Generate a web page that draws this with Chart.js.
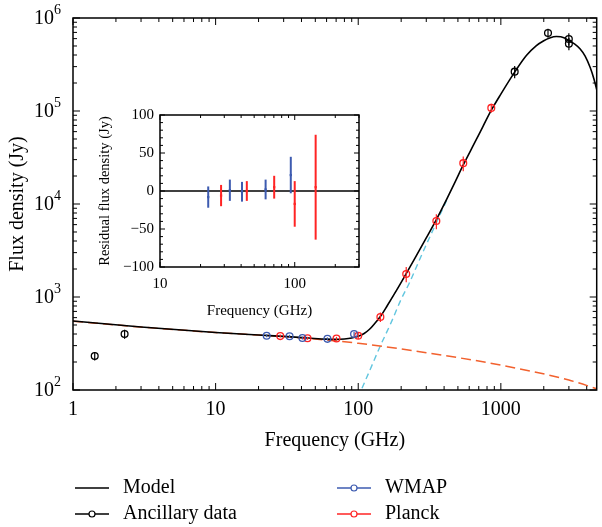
<!DOCTYPE html>
<html>
<head>
<meta charset="utf-8">
<script src="https://cdn.jsdelivr.net/npm/chart.js@4.4.1/dist/chart.umd.min.js"></script>
<style>
  body { margin: 0; background: #fff; }
  #wrap { position: relative; width: 602px; height: 527px; }
  #main { position: absolute; left: 0; top: 0; }
  #inset { position: absolute; left: 90px; top: 100px; }
</style>
</head>
<body>
<div id="wrap">
  <canvas id="main" width="602" height="527"></canvas>
  <canvas id="inset" width="275" height="225"></canvas>
</div>
<script>
// --- data ---
const ancFreq = [1.42, 2.3, 1250, 2141, 2997, 3000];
const ancFlux = [232, 400, 265000, 690000, 595000, 530000];
const ancErr  = [25, 45, 40000, 75000, 90000, 80000];

const wmapFreq = [22.8, 33, 40.6, 60.8, 93.5];
const wmapFlux = [383, 378, 362, 355, 400];
const wmapErr  = [14, 14, 13, 13, 24];

const planckFreq = [28.4, 44.1, 70.4, 100, 143, 217, 353, 545, 857];
const planckFlux = [380, 360, 358, 383, 610, 1770, 6560, 27500, 108000];
const planckErr  = [14, 13, 15, 30, 70, 330, 1200, 5000, 12000];

const modelFreq = [1, 3, 10, 20, 30, 45, 60, 70, 80, 90, 100, 110, 120, 130, 143, 160, 185, 217, 250, 300,
  353, 420, 480, 545, 650, 750, 857, 1000, 1250, 1510, 1775, 2000, 2200, 2450, 2800, 3000, 3300, 3600,
  3900, 4225, 4500, 4700, 5000];
const modelFlux = [552, 475, 415, 390, 377, 362, 352, 350, 354, 363, 378, 405, 450, 515, 617, 810, 1170, 1785,
  2620, 4320, 6800, 11500, 17500, 26300, 44500, 68400, 102000, 152000, 262000, 395000, 505000, 570000,
  610000, 632000, 610000, 570000, 525000, 465000, 390000, 295000, 220000, 170000, 115000];

const synFreq = [1, 3, 10, 30, 100, 300, 1000, 3000, 5000];
const synFlux = [550, 475, 415, 375, 318, 252, 185, 128, 100];

const dustFreq = [100, 105, 120, 142, 170, 199, 230, 270, 353, 420];
const dustFlux = [83, 100, 160, 292, 530, 930, 1450, 2550, 6300, 11200];

// inset residuals
const wmapRes    = [-8, 1, -1, 2, 21];
const wmapResErr = [14, 14, 13, 13, 24];
const planckResFreq = [28.4, 44.1, 70.4, 100, 143];
const planckRes     = [-6, 0, 5, -17, 5];
const planckResErr  = [14, 13, 15, 30, 69];

const xTicksMain = [1, 10, 100, 1000];
const yExpMain = [2, 3, 4, 5, 6];
const yTicksInset = [100, 50, 0, -50, -100];
const xTicksInset = [10, 100];

const BLUE = '#3d5bb0';
const RED = '#ff2424';
const ORANGE = '#f2612e';
const CYAN = '#62c6df';
const FONT = '"Liberation Serif", "DejaVu Serif", serif';

const pts = (xs, ys) => xs.map((v, i) => ({ x: v, y: ys[i] }));

// vertical error bars for datasets that carry an errs array
const errorBars = {
  id: 'errorBars',
  afterDatasetsDraw(chart) {
    const { ctx, scales: { y } } = chart;
    ctx.save();
    chart.data.datasets.forEach((ds, i) => {
      if (!ds.errs) return;
      const meta = chart.getDatasetMeta(i);
      ctx.strokeStyle = ds.borderColor;
      ctx.lineWidth = ds.errWidth || 1.2;
      meta.data.forEach((el, j) => {
        const v = ds.data[j].y, e = ds.errs[j];
        const lo = y.type === 'logarithmic' ? Math.max(v - e, 1) : v - e;
        ctx.beginPath();
        ctx.moveTo(el.x, y.getPixelForValue(v + e));
        ctx.lineTo(el.x, y.getPixelForValue(lo));
        ctx.stroke();
      });
    });
    ctx.restore();
  }
};

function seg(ctx, x1, y1, x2, y2) {
  ctx.beginPath(); ctx.moveTo(x1, y1); ctx.lineTo(x2, y2); ctx.stroke();
}

function logTicks(min, max) {
  const out = [];
  for (let d = Math.pow(10, Math.floor(Math.log10(min))); d <= max; d *= 10) {
    for (let m = 1; m < 10; m++) {
      const v = d * m;
      if (v >= min && v <= max) out.push({ v, major: m === 1 });
    }
  }
  return out;
}

const mainFrame = {
  id: 'mainFrame',
  afterDraw(chart) {
    const { ctx, chartArea: a, scales: { x, y } } = chart;
    ctx.save();
    ctx.strokeStyle = '#000';
    ctx.lineWidth = 1.5;
    ctx.strokeRect(a.left, a.top, a.right - a.left, a.bottom - a.top);
    ctx.lineWidth = 1;
    logTicks(1, 4700).forEach(t => {
      const px = x.getPixelForValue(t.v), len = t.major ? 7 : 4;
      seg(ctx, px, a.bottom, px, a.bottom - len);
      seg(ctx, px, a.top, px, a.top + len);
    });
    logTicks(100, 1e6).forEach(t => {
      const py = y.getPixelForValue(t.v), len = t.major ? 7 : 4;
      seg(ctx, a.left, py, a.left + len, py);
      seg(ctx, a.right, py, a.right - len, py);
    });

    ctx.fillStyle = '#000';
    ctx.textBaseline = 'middle';
    ctx.textAlign = 'center';
    ctx.font = '20px ' + FONT;
    xTicksMain.forEach(v => ctx.fillText(String(v), x.getPixelForValue(v), 410));
    yExpMain.forEach(e => {
      const py = y.getPixelForValue(Math.pow(10, e));
      ctx.font = '20px ' + FONT;
      ctx.textAlign = 'right';
      ctx.fillText('10', 54, py + 1);
      ctx.font = '14px ' + FONT;
      ctx.textAlign = 'left';
      ctx.fillText(String(e), 54, py - 8);
    });

    ctx.font = '20px ' + FONT;
    ctx.textAlign = 'center';
    ctx.fillText('Frequency (GHz)', (a.left + a.right) / 2, 441);
    ctx.save();
    ctx.translate(18, (a.top + a.bottom) / 2);
    ctx.rotate(-Math.PI / 2);
    ctx.fillText('Flux density (Jy)', 0, 0);
    ctx.restore();

    // legend
    const items = [
      { label: 'Model', color: '#000', marker: false, x: 75, y: 488 },
      { label: 'Ancillary data', color: '#000', marker: true, x: 75, y: 514 },
      { label: 'WMAP', color: BLUE, marker: true, x: 337, y: 488 },
      { label: 'Planck', color: RED, marker: true, x: 337, y: 514 }
    ];
    items.forEach(it => {
      ctx.strokeStyle = it.color;
      ctx.lineWidth = 1.5;
      seg(ctx, it.x, it.y, it.x + 34, it.y);
      if (it.marker) {
        ctx.beginPath();
        ctx.fillStyle = '#fff';
        ctx.arc(it.x + 17, it.y, 3, 0, Math.PI * 2);
        ctx.fill();
        ctx.lineWidth = 1.2;
        ctx.stroke();
      }
      ctx.fillStyle = '#000';
      ctx.textAlign = 'left';
      ctx.fillText(it.label, it.x + 48, it.y);
    });
    ctx.restore();
  }
};

const insetFrame = {
  id: 'insetFrame',
  beforeDatasetsDraw(chart) {
    const { ctx, chartArea: a, scales: { y } } = chart;
    ctx.save();
    ctx.strokeStyle = '#000';
    ctx.lineWidth = 1.5;
    const y0 = y.getPixelForValue(0);
    seg(ctx, a.left, y0, a.right, y0);
    ctx.restore();
  },
  afterDraw(chart) {
    const { ctx, chartArea: a, scales: { x, y } } = chart;
    ctx.save();
    ctx.strokeStyle = '#000';
    ctx.lineWidth = 1.5;
    ctx.strokeRect(a.left, a.top, a.right - a.left, a.bottom - a.top);
    ctx.lineWidth = 1;
    logTicks(10, 300).forEach(t => {
      const px = x.getPixelForValue(t.v), len = t.major ? 5 : 3;
      seg(ctx, px, a.bottom, px, a.bottom - len);
      seg(ctx, px, a.top, px, a.top + len);
    });
    for (let v = -100; v <= 100; v += 10) {
      const py = y.getPixelForValue(v), len = v % 50 === 0 ? 5 : 3;
      seg(ctx, a.left, py, a.left + len, py);
      seg(ctx, a.right, py, a.right - len, py);
    }
    ctx.fillStyle = '#000';
    ctx.font = '15px ' + FONT;
    ctx.textBaseline = 'middle';
    ctx.textAlign = 'right';
    yTicksInset.forEach(v => {
      ctx.fillText(v < 0 ? '\u2212' + Math.abs(v) : String(v), a.left - 6, y.getPixelForValue(v));
    });
    ctx.textAlign = 'center';
    xTicksInset.forEach(v => ctx.fillText(String(v), x.getPixelForValue(v), 184));
    ctx.fillText('Frequency (GHz)', (a.left + a.right) / 2, 211);
    ctx.save();
    ctx.translate(15, (a.top + a.bottom) / 2);
    ctx.rotate(-Math.PI / 2);
    ctx.font = '14.5px ' + FONT;
    ctx.fillText('Residual flux density (Jy)', 0, 0);
    ctx.restore();
    ctx.restore();
  }
};

const markerSet = (label, xs, ys, errs, color) => ({
  label,
  data: pts(xs, ys),
  errs,
  errWidth: 1.2,
  showLine: false,
  borderColor: color,
  backgroundColor: 'rgba(0,0,0,0)',
  pointRadius: 3.4,
  pointBorderWidth: 1.3
});

const lineSet = (label, xs, ys, color, width, dash) => ({
  label,
  data: pts(xs, ys),
  showLine: true,
  borderColor: color,
  borderWidth: width,
  borderDash: dash,
  pointRadius: 0,
  cubicInterpolationMode: 'monotone'
});

new Chart(document.getElementById('main'), {
  type: 'scatter',
  data: {
    datasets: [
      markerSet('Ancillary data', ancFreq, ancFlux, ancErr, '#000'),
      markerSet('WMAP', wmapFreq, wmapFlux, wmapErr, BLUE),
      markerSet('Planck', planckFreq, planckFlux, planckErr, RED),
      lineSet('Model', modelFreq, modelFlux, '#000', 1.6, []),
      lineSet('Synchrotron', synFreq, synFlux, ORANGE, 1.5, [10, 5]),
      lineSet('Dust', dustFreq, dustFlux, CYAN, 1.4, [6, 4])
    ]
  },
  options: {
    responsive: false,
    animation: false,
    events: [],
    layout: { padding: { left: 73, top: 18, right: 2, bottom: 137 } },
    plugins: { legend: { display: false }, tooltip: { enabled: false } },
    scales: {
      x: { type: 'logarithmic', min: 1, max: 4700, display: false },
      y: { type: 'logarithmic', min: 100, max: 1e6, display: false }
    }
  },
  plugins: [errorBars, mainFrame]
});

new Chart(document.getElementById('inset'), {
  type: 'scatter',
  data: {
    datasets: [
      {
        label: 'WMAP', data: pts(wmapFreq, wmapRes), errs: wmapResErr, errWidth: 2,
        borderColor: BLUE, backgroundColor: BLUE, pointStyle: 'rect', pointRadius: 1.6, pointBorderWidth: 0
      },
      {
        label: 'Planck', data: pts(planckResFreq, planckRes), errs: planckResErr, errWidth: 2,
        borderColor: RED, backgroundColor: RED, pointStyle: 'rect', pointRadius: 1.6, pointBorderWidth: 0
      }
    ]
  },
  options: {
    responsive: false,
    animation: false,
    events: [],
    layout: { padding: { left: 70, top: 15, right: 6, bottom: 58 } },
    plugins: { legend: { display: false }, tooltip: { enabled: false } },
    scales: {
      x: { type: 'logarithmic', min: 10, max: 300, display: false },
      y: { type: 'linear', min: -100, max: 100, display: false }
    }
  },
  plugins: [errorBars, insetFrame]
});
</script>
</body>
</html>
